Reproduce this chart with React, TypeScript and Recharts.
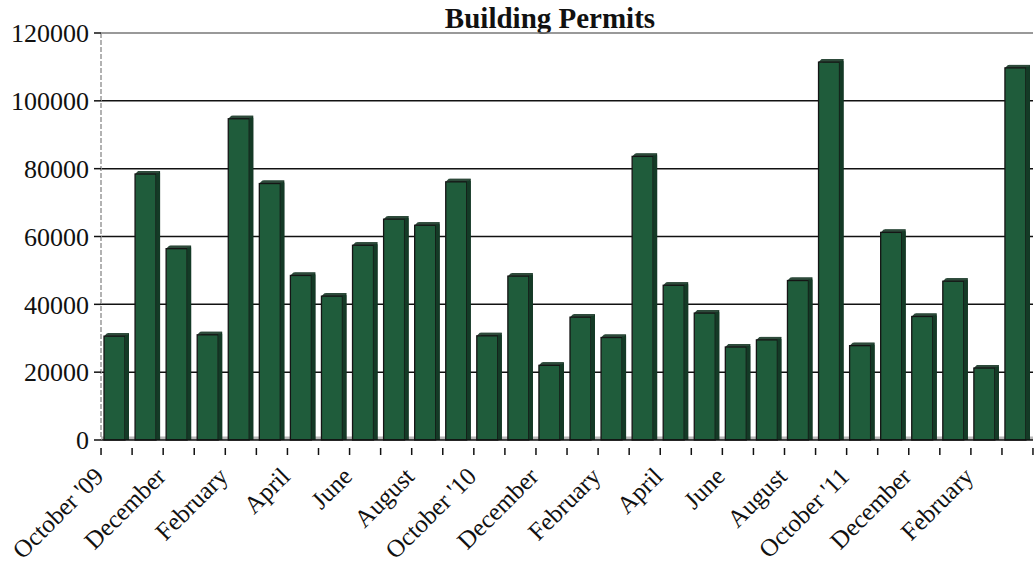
import { BarChart, Bar, XAxis, YAxis, CartesianGrid, ReferenceLine, ReferenceArea } from "recharts";

const months = [
  "October '09", "November", "December", "January", "February", "March",
  "April", "May", "June", "July", "August", "September",
  "October '10", "November", "December", "January", "February", "March",
  "April", "May", "June", "July", "August", "September",
  "October '11", "November", "December", "January", "February", "March",
];
const permits = [
  31500, 79300, 57300, 31900, 95600, 76500, 49400, 43300, 58300, 66000,
  64200, 77000, 31600, 49200, 22900, 37100, 31100, 84500, 46500, 38300,
  28300, 30400, 47900, 112300, 28700, 62100, 37300, 47700, 22100, 110600,
];
const yTicks = [0, 20000, 40000, 60000, 80000, 100000, 120000];

const data = months.map((m, i) => ({ month: m, idx: i, permits: permits[i] }));

const serif = "'Liberation Serif', 'DejaVu Serif', serif";

// bar with a little fake 3D: dark side strip and bevelled top
const BarShape = (props: any) => {
  const { x, y, width, height } = props;
  if (!height || height <= 0) return null;
  const side = 4;
  const front = width - side;
  return (
    <g>
      <rect x={x + side} y={y} width={front} height={height} fill="#0f2f1f" />
      <polygon
        points={`${x},${y + 3} ${x + 3},${y} ${x + width},${y} ${x + width - 2},${y + 3}`}
        fill="#2d4a3a"
      />
      <rect x={x} y={y + 3} width={front} height={height - 3} fill="#1f5c3b" stroke="#151515" strokeWidth={1.3} />
      <rect x={x + front} y={y + 2} width={side} height={height - 2} fill="#143a26" />
    </g>
  );
};

const MonthTick = (props: any) => {
  const { x, y, index } = props;
  const half = 15.5;
  const bx = x - half;
  const lx = bx + 4;
  const ly = y + 30;
  return (
    <g>
      <line x1={bx} y1={y} x2={bx} y2={y + 7} stroke="#111" strokeWidth={1.5} />
      {index === 29 && <line x1={x + half} y1={y} x2={x + half} y2={y + 7} stroke="#111" strokeWidth={1.5} />}
      {index % 2 === 0 && (
        <text
          x={lx}
          y={ly}
          transform={`rotate(-45, ${lx}, ${ly})`}
          textAnchor="end"
          fontFamily={serif}
          fontSize={25}
          fill="#111"
        >
          {months[index]}
        </text>
      )}
    </g>
  );
};

export default function App() {
  return (
    <div style={{ position: "absolute", left: 0, top: 0, width: 1034, height: 565, background: "#fff" }}>
      <div
        style={{
          position: "absolute",
          left: 0,
          width: 1100,
          top: 4,
          textAlign: "center",
          fontFamily: serif,
          fontWeight: "bold",
          fontSize: 29,
          lineHeight: "28px",
          color: "#111",
        }}
      >
        Building Permits
      </div>
      <BarChart
        width={1034}
        height={565}
        data={data}
        margin={{ top: 33, right: 1, bottom: 0, left: 0 }}
        barSize={25}
      >
        <ReferenceArea y1={0} y2={1000} fill="#b8b8b8" fillOpacity={1} stroke="none" />
        <CartesianGrid vertical={false} horizontalValues={[20000, 40000, 60000, 80000, 100000]} stroke="#111" strokeWidth={1.5} />
        <ReferenceLine y={120000} stroke="#777" strokeWidth={1.5} />
        <XAxis
          dataKey="idx"
          type="category"
          interval={0}
          height={125}
          tickLine={false}
          axisLine={{ stroke: "#111", strokeWidth: 1.5 }}
          tick={<MonthTick />}
        />
        <YAxis
          width={101}
          domain={[0, 120000]}
          ticks={yTicks}
          interval={0}
          tickSize={7}
          tickMargin={5}
          tickLine={{ stroke: "#111", strokeWidth: 1.5 }}
          axisLine={{ stroke: "#999", strokeWidth: 1.5, strokeDasharray: "5 2" }}
          tick={{ fontFamily: serif, fontSize: 26, fill: "#111" }}
        />
        <Bar dataKey="permits" shape={<BarShape />} isAnimationActive={false} />
      </BarChart>
    </div>
  );
}
